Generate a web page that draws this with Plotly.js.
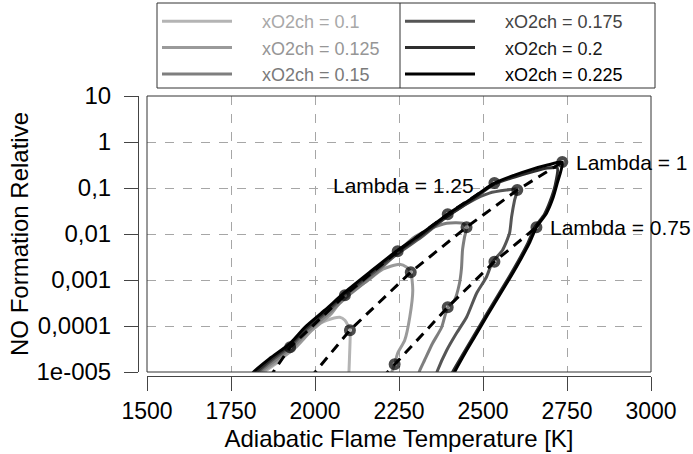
<!DOCTYPE html>
<html><head><meta charset="utf-8">
<script src="https://cdn.plot.ly/plotly-3.0.1.min.js"></script>
<style>html,body{margin:0;padding:0;background:#fff}#chart{width:693px;height:454px}</style>
</head><body><div id="chart"></div>
<script>
// Series: adiabatic flame temperature [K] and relative NO formation
const seriesNames = ['xO2ch = 0.1','xO2ch = 0.125','xO2ch = 0.15','xO2ch = 0.175','xO2ch = 0.2','xO2ch = 0.225'];

const t_0100 = [1839, 1848, 1890, 1926, 1964, 1994, 2035, 2074, 2089, 2104, 2104, 2101, 2101];
const y_0100 = [7.3e-6, 9.8e-6, 1.63e-5, 3.12e-5, 5.69e-5, 9.39e-5, 1.33e-4, 1.55e-4, 1.33e-4, 8.09e-5, 3.81e-5, 9.8e-6, 7.7e-6];

const t_0125 = [1833, 1842, 1884, 1943, 1988, 2047, 2089, 2154, 2202, 2252, 2273, 2285, 2291, 2282, 2267, 2246, 2237, 2228, 2225];
const y_0125 = [7.3e-6, 9.8e-6, 1.63e-5, 3.45e-5, 7.69e-5, 1.80e-4, 4.44e-4, 9.42e-4, 1.72e-3, 2.21e-3, 1.90e-3, 1.48e-3, 6.00e-4, 1.55e-4, 4.90e-5, 2.55e-5, 1.47e-5, 9.8e-6, 7.7e-6];

const t_0150 = [1828, 1836, 1878, 1937, 1982, 2041, 2101, 2175, 2246, 2291, 2341, 2392, 2439, 2451, 2445, 2439, 2436, 2430, 2415, 2395, 2377, 2350, 2326, 2312, 2306];
const y_0150 = [7.3e-6, 9.8e-6, 1.71e-5, 3.63e-5, 8.09e-5, 1.89e-4, 4.67e-4, 1.27e-3, 4.02e-3, 8.12e-3, 1.28e-2, 1.72e-2, 1.72e-2, 1.41e-2, 8.55e-3, 4.45e-3, 1.81e-3, 8.51e-4, 3.63e-4, 2.56e-4, 9.39e-5, 4.21e-5, 1.80e-5, 1.09e-5, 8.05e-6];

const t_0175 = [1822, 1830, 1872, 1931, 1976, 2035, 2095, 2169, 2252, 2317, 2395, 2460, 2519, 2570, 2602, 2594, 2585, 2579, 2558, 2528, 2510, 2481, 2451, 2421, 2392, 2365, 2359];
const y_0175 = [7.3e-6, 9.8e-6, 1.80e-5, 3.81e-5, 8.50e-5, 1.99e-4, 4.91e-4, 1.34e-3, 4.02e-3, 8.55e-3, 2.45e-2, 4.94e-2, 7.75e-2, 9.00e-2, 9.46e-2, 5.46e-2, 2.33e-2, 1.04e-2, 4.45e-3, 2.44e-3, 1.15e-3, 5.16e-4, 1.55e-4, 6.95e-5, 2.97e-5, 1.09e-5, 8.05e-6];

const t_0200 = [1816, 1825, 1869, 1928, 1973, 2032, 2092, 2166, 2249, 2314, 2398, 2463, 2534, 2594, 2644, 2692, 2721, 2715, 2700, 2683, 2653, 2632, 2608, 2579, 2543, 2507, 2472, 2442, 2409, 2401];
const y_0200 = [7.3e-6, 9.8e-6, 1.89e-5, 4.01e-5, 8.93e-5, 2.09e-4, 5.16e-4, 1.41e-3, 4.23e-3, 8.98e-3, 2.57e-2, 5.19e-2, 0.122, 0.173, 0.222, 0.271, 0.271, 0.116, 5.19e-2, 2.70e-2, 1.34e-2, 6.01e-3, 2.83e-3, 1.21e-3, 4.44e-4, 1.63e-4, 5.98e-5, 2.55e-5, 9.8e-6, 7.3e-6];

const t_0225 = [1807, 1816, 1866, 1926, 1970, 2029, 2089, 2163, 2246, 2311, 2395, 2460, 2534, 2594, 2638, 2692, 2736, 2721, 2706, 2689, 2659, 2638, 2614, 2585, 2549, 2513, 2478, 2448, 2415, 2407];
const y_0225 = [7.3e-6, 9.8e-6, 1.99e-5, 4.21e-5, 9.39e-5, 2.20e-4, 5.42e-4, 1.48e-3, 4.45e-3, 9.44e-3, 2.70e-2, 5.46e-2, 0.128, 0.191, 0.245, 0.315, 0.366, 0.128, 5.46e-2, 2.84e-2, 1.41e-2, 6.32e-3, 2.98e-3, 1.27e-3, 4.67e-4, 1.71e-4, 6.29e-5, 2.68e-5, 9.8e-6, 7.3e-6];

// Constant-lambda lines (first entry is the extension to the lower axis limit)
const lambdaLabels = ['Lambda = 1.25', 'Lambda = 1', 'Lambda = 0.75'];
const lam125T = [1863, 1926, 2089, 2246, 2395, 2534];
const lam125Y = [7.3e-6, 3.45e-5, 4.67e-4, 4.23e-3, 2.70e-2, 0.128];
const lam100T = [1985, 2104, 2285, 2451, 2602, 2736];
const lam100Y = [7.3e-6, 8.09e-5, 1.48e-3, 1.41e-2, 9.00e-2, 0.366];
const lam075T = [2199, 2237, 2395, 2534, 2659];
const lam075Y = [7.3e-6, 1.47e-5, 2.56e-4, 2.50e-3, 1.41e-2];

const xTickVals = [1500, 1750, 2000, 2250, 2500, 2750, 3000];
const yTickVals = [10, 1, 0.1, 0.01, 0.001, 0.0001, 0.00001];
const yTickText = ['10', '1', '0,1', '0,01', '0,001', '0,0001', '1e-005'];

const lineColors = ['#b4b4b4', '#9a9a9a', '#7e7e7e', '#555555', '#2e2e2e', '#000000'];
const textColors = ['#a8a8a8', '#969696', '#7a7a7a', '#444444', '#1a1a1a', '#000000'];
const legendRanks = [1, 3, 5, 2, 4, 6];

const seriesT = [t_0100, t_0125, t_0150, t_0175, t_0200, t_0225];
const seriesY = [y_0100, y_0125, y_0150, y_0175, y_0200, y_0225];

const pad = '&nbsp;&nbsp;&nbsp;&nbsp;&nbsp;';
const traces = seriesNames.map((n, i) => ({
  type: 'scatter', mode: 'lines', x: seriesT[i], y: seriesY[i],
  name: pad + '<span style="color:' + textColors[i] + '">' + n + '</span>',
  legendrank: legendRanks[i],
  line: {color: lineColors[i], width: 3, shape: 'spline', smoothing: 0.6},
  hoverinfo: 'skip'
}));

const lamT = [lam125T, lam100T, lam075T];
const lamY = [lam125Y, lam100Y, lam075Y];
lamT.forEach((tt, k) => {
  traces.push({
    type: 'scatter', mode: 'lines+markers', x: tt, y: lamY[k], showlegend: false,
    line: {color: '#000', width: 3, dash: '10px,7px'},
    marker: {symbol: 'circle-open', size: tt.map((_, i) => i === 0 ? 0 : 8), color: '#000', line: {width: 4, color: '#000'}},
    hoverinfo: 'skip'
  });
});

// Legend frame geometry (pixels in the 693x454 page)
const legBox = {left: 157, right: 655, top: 3, bottom: 88, divider: 400};
const plotL = 138, plotW = 513, plotBottom = 376, plotH = 280;
const px2paperX = p => (p - plotL) / plotW;
const px2paperY = p => (plotBottom - p) / plotH;

const fontFam = 'Liberation Sans, Arial, Helvetica, sans-serif';
const layout = {
  width: 693, height: 454,
  margin: {l: 138, r: 42, t: 96, b: 78, autoexpand: false},
  paper_bgcolor: '#fff', plot_bgcolor: '#fff',
  font: {family: fontFam, color: '#000', size: 24},
  showlegend: true,
  legend: {
    orientation: 'h', x: px2paperX(legBox.left), xanchor: 'left', y: px2paperY(legBox.top), yanchor: 'top',
    entrywidth: 158, entrywidthmode: 'pixels', itemwidth: 70,
    borderwidth: 0, bgcolor: 'rgba(0,0,0,0)',
    font: {family: fontFam, size: 18, color: '#000'},
    tracegroupgap: 0, itemclick: false
  },
  xaxis: {
    domain: [9/513, 1], anchor: 'free', position: 0,
    range: [1500, 3000], tickvals: xTickVals, ticktext: xTickVals.map(String),
    showline: true, linecolor: '#444', linewidth: 1,
    ticks: 'outside', ticklen: 14, tickcolor: '#444', tickwidth: 1,
    showgrid: true, gridcolor: '#a6a6a6', griddash: 'dash', gridwidth: 1,
    zeroline: false, tickfont: {size: 23},
    title: {text: 'Adiabatic Flame Temperature [K]', font: {size: 24}, standoff: 7}
  },
  yaxis: {
    type: 'log', domain: [4/280, 1], anchor: 'free', position: 0,
    range: [-5, 1], tickvals: yTickVals, ticktext: yTickText,
    showline: true, linecolor: '#444', linewidth: 1,
    ticks: 'outside', ticklen: 14, tickcolor: '#444', tickwidth: 1,
    ticklabelstandoff: 8,
    showgrid: true, gridcolor: '#a6a6a6', griddash: 'dash', gridwidth: 1,
    zeroline: false, tickfont: {size: 24},
    title: {text: 'NO Formation Relative', font: {size: 24}, standoff: 0}
  },
  shapes: [
    {type: 'rect', xref: 'x domain', yref: 'y domain', x0: 0, x1: 1, y0: 0, y1: 1, line: {color: '#333', width: 1}},
    {type: 'rect', xref: 'paper', yref: 'paper', layer: 'above',
     x0: px2paperX(legBox.left), x1: px2paperX(legBox.right), y0: px2paperY(legBox.bottom), y1: px2paperY(legBox.top),
     line: {color: '#333', width: 1}},
    {type: 'line', xref: 'paper', yref: 'paper', layer: 'above',
     x0: px2paperX(legBox.divider), x1: px2paperX(legBox.divider), y0: px2paperY(legBox.bottom), y1: px2paperY(legBox.top),
     line: {color: '#333', width: 1}}
  ],
  annotations: [
    {x: lam125T[lam125T.length-1], y: Math.log10(lam125Y[lam125Y.length-1]), xref: 'x', yref: 'y', text: lambdaLabels[0], showarrow: false, xanchor: 'right', xshift: -18, yshift: -2, font: {size: 21}},
    {x: lam100T[lam100T.length-1], y: Math.log10(lam100Y[lam100Y.length-1]), xref: 'x', yref: 'y', text: lambdaLabels[1], showarrow: false, xanchor: 'left', xshift: 12, font: {size: 21}},
    {x: lam075T[lam075T.length-1], y: Math.log10(lam075Y[lam075Y.length-1]), xref: 'x', yref: 'y', text: lambdaLabels[2], showarrow: false, xanchor: 'left', xshift: 12, font: {size: 21}}
  ]
};

Plotly.newPlot('chart', traces, layout, {staticPlot: true, displayModeBar: false});
</script>
</body></html>
